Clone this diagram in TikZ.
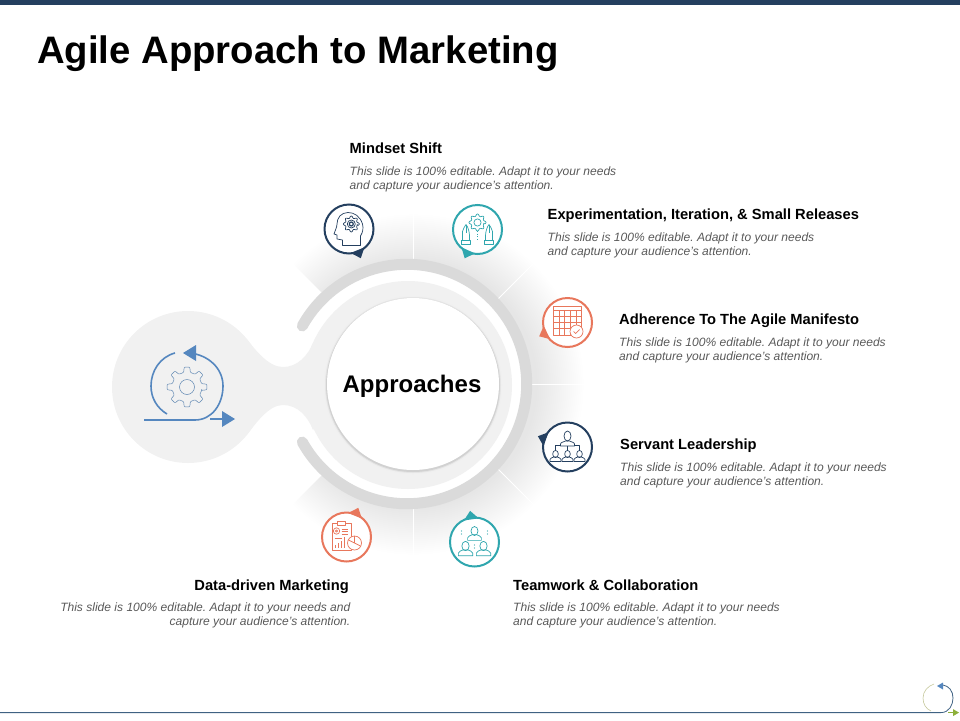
\documentclass[tikz,border=0pt]{standalone}
\usepackage{fontspec}
\setmainfont{Liberation Sans}
\usetikzlibrary{positioning}

\definecolor{navy}{HTML}{243F5F}
\definecolor{teal}{HTML}{2FA6AE}
\definecolor{coral}{HTML}{E8775C}
\definecolor{loopblue}{HTML}{5587BF}
\definecolor{blobgray}{HTML}{F1F1F1}
\definecolor{arcgray}{HTML}{DADADA}
\definecolor{bodygray}{HTML}{595959}
\definecolor{fangray}{HTML}{E6E6E6}
\definecolor{footblue}{HTML}{3F6283}
\definecolor{footgreen}{HTML}{8DB03A}
\definecolor{footpale}{HTML}{C4C79A}

\pgfdeclareradialshading{fanshade}{\pgfpoint{0bp}{0bp}}{color(0bp)=(fangray); color(18bp)=(fangray); color(25bp)=(white); color(50bp)=(white)}

\tikzset{
    heading/.style={anchor=west, inner sep=0pt, text height=10.5pt, text depth=3pt, font=\fontsize{14.7}{16}\selectfont\bfseries},
    bodytext/.style={inner sep=0pt, align=left, text=bodygray, font=\fontsize{12.05}{14}\selectfont\itshape\frenchspacing},
    iconring/.style={circle, draw, fill=white, line width=2pt, minimum size=49pt, inner sep=0pt},
    iconline/.style={line width=.7pt, line join=round},
    divider/.style={white, line width=1pt},
}

\newcommand{\pintail}[3]{\fill[#3, shift={(#1)}] (#2-18:24) -- (#2:31.5) -- (#2+18:24) -- cycle;}
\newcommand{\cogshape}[2]{\draw[rounded corners=.8pt] (-13:#2) \foreach \a in {0,45,...,315} { -- ({\a-13}:#2) -- ({\a-8}:#1) -- ({\a+8}:#1) -- ({\a+13}:#2) } -- cycle;}
\newcommand{\personshape}{
    \draw (0,0) ellipse (2.8 and 3.6);
    \draw (-5.5,-7.5) -- (-5.5,-5.5) .. controls (-5.5,-3.8) and (-3,-3.8) .. (-1.8,-3) -- (1.8,-3) .. controls (3,-3.8) and (5.5,-3.8) .. (5.5,-5.5) -- (5.5,-7.5) -- cycle;
}
\newcommand{\handshape}{
    \draw (-15,-10.5) -- (-15,-2) .. controls (-14.5,1) and (-12.5,3) .. (-11.5,5) .. controls (-9.5,3) and (-8,-3) .. (-8,-6) -- (-8,-10.5);
    \draw (-11.5,5) -- (-11.5,-3);
    \draw (-16,-10.5) rectangle (-7,-14.5);
}
\newcommand{\headicon}{
    \draw (11.5,-16.5) -- (11.5,-7) .. controls (14,-3) and (14.5,1) .. (13.5,5) .. controls (11,13) and (5,16.5) .. (-1,16.5) .. controls (-8,16.5) and (-12,11) .. (-12,5) .. controls (-12,2) and (-14,-2) .. (-15,-5) -- (-12,-6) -- (-12,-10) -- (-6.5,-11) -- (-6.5,-16.5) -- cycle;
    \begin{scope}[shift={(2.3,5)}]
        \cogshape{8}{6}
        \draw (0,0) circle (4);
        \draw[line width=1.2pt] (0,0) circle (2);
    \end{scope}
}
\newcommand{\handsicon}{
    \begin{scope}[shift={(0,7)}]
        \cogshape{8.5}{6.5}
        \draw (0,0) circle (3.6);
    \end{scope}
    \draw[dotted] (0,-1.5) -- (0,-10);
    \handshape
    \begin{scope}[xscale=-1]
        \handshape
    \end{scope}
}
\newcommand{\calendaricon}{
    \draw (-14,-12.5) rectangle (14,16.5);
    \draw (-14,12) -- (14,12);
    \foreach \x in {-8.4,-2.8,2.8,8.4} {\draw (\x,12) -- (\x,-12.5);}
    \foreach \y in {6,0,-6} {\draw (-14,\y) -- (14,\y);}
    \draw[fill=white] (9,-9) circle (6.5);
    \draw (6,-9) -- (8.2,-11) -- (12,-7);
}
\newcommand{\orgicon}{
    \draw (0,11) ellipse (3.5 and 5);
    \draw (-7,1) -- (-7,3) .. controls (-7,5) and (-3,5) .. (-2,6) -- (2,6) .. controls (3,5) and (7,5) .. (7,3) -- (7,1) -- cycle;
    \draw (-7,2) -- (-12,2) -- (-12,-3);
    \draw (7,2) -- (12,2) -- (12,-3);
    \draw (0,1) -- (0,-3);
    \foreach \x in {-12,0,12} {
        \begin{scope}[shift={(\x,-7)}]
            \personshape
        \end{scope}
    }
}
\newcommand{\teamicon}{
    \begin{scope}[shift={(0,11)}, scale=1.25]
        \personshape
    \end{scope}
    \foreach \x in {-9,9} {
        \begin{scope}[shift={(\x,-4)}, scale=1.3]
            \personshape
        \end{scope}
    }
    \foreach \x/\y in {-13/11,-13/8,13/11,13/8,0/-3,0/-6} {\fill (\x,\y) circle (.7);}
}
\newcommand{\reporticon}{
    \draw (-14.5,-13) rectangle (4.5,14);
    \draw[fill=white] (-9,12) rectangle (-1,16);
    \draw (-10,6) circle (3.2);
    \draw (-10,6) circle (1.2);
    \foreach \y in {8,5.5,3} {\draw (-5,\y) -- (1.5,\y);}
    \draw (-12,-1) -- (-5,-1);
    \foreach \x/\h in {-12/3,-9/5,-6/7,-3/11} {\fill (\x,-11) rectangle (\x+1.8,-11+\h);}
    \draw[fill=white] (8,-6) circle (7);
    \draw (8,-6) -- (8,1);
    \draw (8,-6) -- (14,-9);
    \draw (8,-6) -- (2,-3);
}

\begin{document}
\begin{tikzpicture}[x=1pt, y=1pt]
    \useasboundingbox (0,-720) rectangle (960,0);
    \fill[navy] (0,-5) rectangle (960,0);

    \node[inner sep=0pt, anchor=base west] (title) at (37,-63.5) {\fontsize{38.3}{42}\selectfont\bfseries Agile Approach to Marketing};

    \begin{scope}
        \clip (413,-384) -- ++(135:171) arc[start angle=135, end angle=-135, radius=171] -- cycle;
        \shade[shading=fanshade] (413,-384) circle (171);
    \end{scope}
    \foreach \a in {90,45,0,-45,-90} {
        \draw[divider, shift={(413,-384)}] (\a:118) -- (\a:171);
    }
    \fill[white] (407,-384) circle (120);

    \fill[blobgray] (188,-387) circle (76);
    \fill[blobgray] (408,-385) circle (104);
    \fill[blobgray] (247,-339.5) .. controls (255,-349) and (268,-367) .. (283,-367) .. controls (298,-367) and (308,-355) .. (313,-343) -- (350,-387) -- (313,-430) .. controls (308,-417) and (298,-405) .. (283,-405) .. controls (268,-405) and (255,-425) .. (247,-434.5) -- cycle;
    \draw[arcgray, line width=11pt, line cap=round] ([shift={(151:119.7)}]407,-384) arc[start angle=151, end angle=-151, radius=119.7];

    \foreach \r/\s in {89/6,88/10,87/18} {
        \fill[black!\s] (413,-385) circle (\r);
    }
    \node[circle, fill=white, minimum size=172pt, inner sep=0pt] (approachesdisc) at (413,-384) {};
    \node[inner sep=0pt, font=\fontsize{24}{28}\selectfont\bfseries] (approaches) at (412,-386) {Approaches};

    \begin{scope}[shift={(187,-387)}, loopblue!80!gray, line width=.5pt]
        \cogshape{20}{15}
        \draw (0,0) circle (7.5);
    \end{scope}
    \draw[loopblue, line width=1.6pt] (144,-420) -- (195,-420) .. controls (212,-420) and (223,-404) .. (223,-386) .. controls (223,-368) and (208,-355) .. (190,-353);
    \draw[loopblue, line width=1.6pt] (175,-353) .. controls (160,-357) and (151,-371) .. (151,-386) .. controls (151,-398) and (157,-408) .. (167,-414);
    \draw[loopblue, line width=1.6pt] (210,-419) -- (224,-419);
    \fill[loopblue] (183,-353) -- (196,-345) -- (196,-361) -- cycle;
    \fill[loopblue] (235,-419) -- (222,-411) -- (222,-427) -- cycle;

    \node[iconring, draw=navy] (mindseticon) at (349,-229) {};
    \node[iconring, draw=teal] (experimenticon) at (477.5,-229.5) {};
    \node[iconring, draw=coral] (manifestoicon) at (567.5,-322.5) {};
    \node[iconring, draw=navy] (servanticon) at (567.5,-447) {};
    \node[iconring, draw=teal] (teamworkicon) at (474.5,-542) {};
    \node[iconring, draw=coral] (dataicon) at (346.5,-537) {};
    \pintail{mindseticon}{-68}{navy}
    \pintail{experimenticon}{-114}{teal}
    \pintail{manifestoicon}{206}{coral}
    \pintail{servanticon}{160}{navy}
    \pintail{teamworkicon}{98}{teal}
    \pintail{dataicon}{68}{coral}

    \begin{scope}[shift={(mindseticon)}, navy, iconline]
        \headicon
    \end{scope}
    \begin{scope}[shift={(experimenticon)}, teal, iconline]
        \handsicon
    \end{scope}
    \begin{scope}[shift={(manifestoicon)}, coral, iconline]
        \calendaricon
    \end{scope}
    \begin{scope}[shift={(servanticon)}, navy, iconline]
        \orgicon
    \end{scope}
    \begin{scope}[shift={(teamworkicon)}, teal, iconline]
        \teamicon
    \end{scope}
    \begin{scope}[shift={(dataicon)}, coral, iconline]
        \reporticon
    \end{scope}

    \node[heading] (mindset) at (349.5,-150) {Mindset Shift};
    \node[bodytext, below=10pt of mindset.south west, anchor=north west] (mindsetbody) {This slide is 100\% editable. Adapt it to your needs\\and capture your audience's attention.};
    \node[heading] (experiment) at (547.5,-216) {Experimentation, Iteration, \& Small Releases};
    \node[bodytext, below=10pt of experiment.south west, anchor=north west] (experimentbody) {This slide is 100\% editable. Adapt it to your needs\\and capture your audience's attention.};
    \node[heading] (manifesto) at (619,-321) {Adherence To The Agile Manifesto};
    \node[bodytext, below=10pt of manifesto.south west, anchor=north west] (manifestobody) {This slide is 100\% editable. Adapt it to your needs\\and capture your audience's attention.};
    \node[heading] (servant) at (620,-446) {Servant Leadership};
    \node[bodytext, below=10pt of servant.south west, anchor=north west] (servantbody) {This slide is 100\% editable. Adapt it to your needs\\and capture your audience's attention.};
    \node[heading] (teamwork) at (513,-587) {Teamwork \& Collaboration};
    \node[bodytext, below=9pt of teamwork.south west, anchor=north west] (teamworkbody) {This slide is 100\% editable. Adapt it to your needs\\and capture your audience's attention.};
    \node[heading, anchor=east] (data) at (349,-587) {Data-driven Marketing};
    \node[bodytext, align=right, below=9pt of data.south east, anchor=north east, xshift=1.5pt] (databody) {This slide is 100\% editable. Adapt it to your needs and\\capture your audience's attention.};

    \draw[footblue, line width=.8pt] (0,-712.6) -- (941,-712.6) .. controls (949,-712.6) and (953,-705) .. (953,-698) .. controls (953,-691) and (949,-686) .. (943,-685);
    \draw[footpale, line width=.6pt] (934,-684) .. controls (928,-686) and (923,-691) .. (923,-698) .. controls (923,-704) and (926,-709) .. (931,-711);
    \fill[loopblue] (937,-686) -- (943,-682.5) -- (943,-689.5) -- cycle;
    \draw[footgreen, line width=.8pt] (948,-712.6) -- (954,-712.6);
    \fill[footgreen] (959,-712.6) -- (953,-709.1) -- (953,-716.1) -- cycle;
\end{tikzpicture}
\end{document}
